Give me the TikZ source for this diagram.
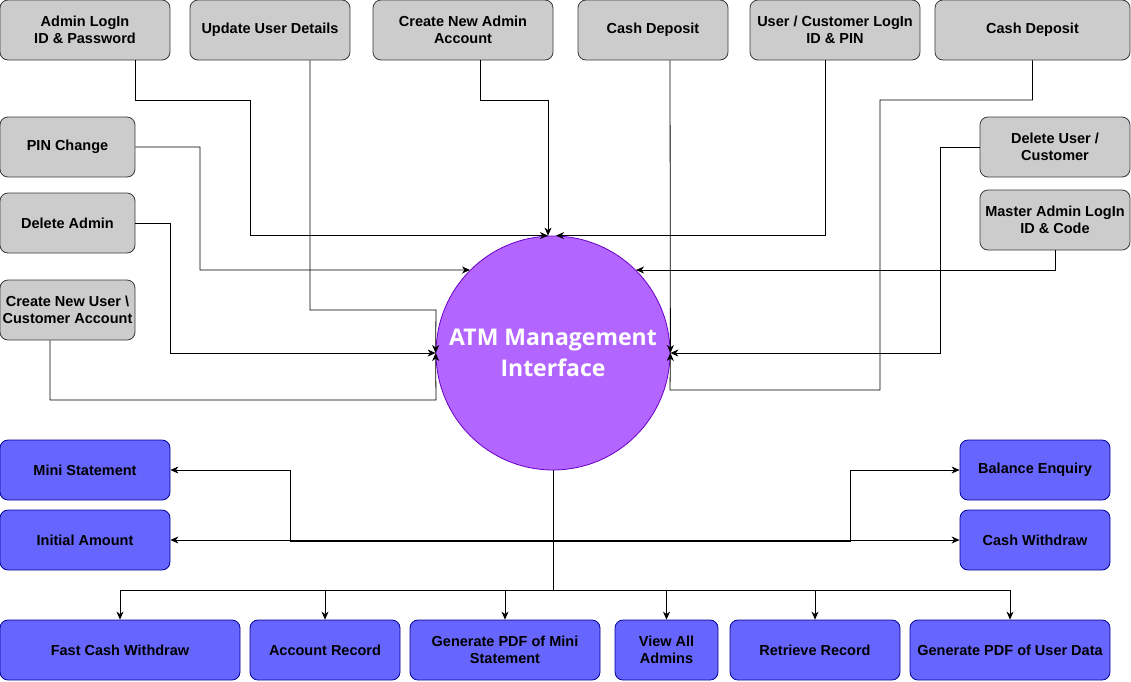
\documentclass[tikz,border=0pt]{standalone}
\usepackage{fontspec}
\setmainfont{Liberation Sans}
\newfontfamily\atmfont{Open Sans}
\usetikzlibrary{arrows.meta}
\definecolor{boxgrey}{HTML}{CCCCCC}
\definecolor{linegrey}{HTML}{36393D}
\definecolor{boxblue}{HTML}{6666FF}
\definecolor{lineblue}{HTML}{000099}
\definecolor{atmfill}{HTML}{B266FF}
\definecolor{atmline}{HTML}{6A00C8}
\begin{document}
\begin{tikzpicture}[x=1pt,y=-1pt,
    box/.style={rectangle, draw, rounded corners=8pt, inner sep=0pt,
      minimum height=60, align=center, font=\fontsize{14.5}{17}\selectfont\bfseries},
    inbox/.style={box, fill=boxgrey, draw=linegrey},
    outbox/.style={box, fill=boxblue, draw=lineblue},
    >={Stealth[length=8pt,width=7pt,inset=2.5pt]}, line width=0.8pt]
  \useasboundingbox (0,0) rectangle (1131,681);
  % the interface
  \node[circle, draw=atmline, fill=atmfill, minimum size=234, inner sep=0pt,
    text=white, align=center, font=\atmfont\fontsize{23}{31}\selectfont\bfseries]
    (atm) at (553,353) {ATM Management\\Interface};
  % inputs
  \node[inbox, minimum width=170] (adm) at (85,30) {Admin LogIn\\ID \& Password};
  \node[inbox, minimum width=160] (upd) at (270,30) {Update User Details};
  \node[inbox, minimum width=180] (cna) at (463,30) {Create New Admin\\Account};
  \node[inbox, minimum width=150] (cd1) at (653,30) {Cash Deposit};
  \node[inbox, minimum width=170] (ucl) at (835,30) {User / Customer LogIn\\ID \& PIN};
  \node[inbox, minimum width=195] (cd2) at (1032.5,30) {Cash Deposit};
  \node[inbox, minimum width=135] (pin) at (67.5,147) {PIN Change};
  \node[inbox, minimum width=135] (dla) at (67.5,223) {Delete Admin};
  \node[inbox, minimum width=135] (cnu) at (67.5,310) {Create New User \textbackslash\\Customer Account};
  \node[inbox, minimum width=150] (dlu) at (1055,147) {Delete User /\\Customer};
  \node[inbox, minimum width=150] (mal) at (1055,220) {Master Admin LogIn\\ID \& Code};
  % outputs
  \node[outbox, minimum width=170] (ms) at (85,470) {Mini Statement};
  \node[outbox, minimum width=170] (ia) at (85,540) {Initial Amount};
  \node[outbox, minimum width=150] (be) at (1035,470) {Balance Enquiry};
  \node[outbox, minimum width=150] (cw) at (1035,540) {Cash Withdraw};
  \node[outbox, minimum width=240] (fcw) at (120,650) {Fast Cash Withdraw};
  \node[outbox, minimum width=150] (acr) at (325,650) {Account Record};
  \node[outbox, minimum width=190] (gpm) at (505,650) {Generate PDF of Mini\\Statement};
  \node[outbox, minimum width=103] (vaa) at (666.5,650) {View All\\Admins};
  \node[outbox, minimum width=170] (rtr) at (815,650) {Retrieve Record};
  \node[outbox, minimum width=200] (gpu) at (1010,650) {Generate PDF of User Data};
  % into the interface
  \draw[->] ([xshift=50pt]adm.south) |- (250,100) |- ([xshift=-5pt]atm.north);
  \draw[->] ([xshift=17pt]cna.south) |- (548,100) -- ([xshift=-5pt]atm.north);
  \draw[->] ([xshift=-10pt]ucl.south) |- ([xshift=3pt]atm.north);
  \draw[->] ([xshift=40pt]upd.south) |- (436,310) -- (atm.west);
  \draw[->] (dla.east) -| (170,353) -- (atm.west);
  \draw[->] ([xshift=-17.5pt]cnu.south) |- (436,400) -- (atm.west);
  \draw[->] (pin.east) -| (200,270) -- (atm.135);
  \draw[->] (mal.south) |- (atm.45);
  \draw[->] ([xshift=17pt]cd1.south) -- (atm.east);
  \draw[->] (dlu.west) -| (940,353) -- (atm.east);
  \draw[->] (cd2.south) |- (880,100) |- (670,390) -- (atm.east);
  % out of the interface
  \draw[->] (atm.south) |- (290,541) |- (ms.east);
  \draw[->] (atm.south) |- (ia.east);
  \draw[->] (atm.south) |- (850,541) |- (be.west);
  \draw[->] (atm.south) |- (cw.west);
  \foreach \n in {fcw,acr,gpm,vaa,rtr,gpu}
    \draw[->] (atm.south) -- ++(0,120) -| (\n.north);
\end{tikzpicture}
\end{document}
